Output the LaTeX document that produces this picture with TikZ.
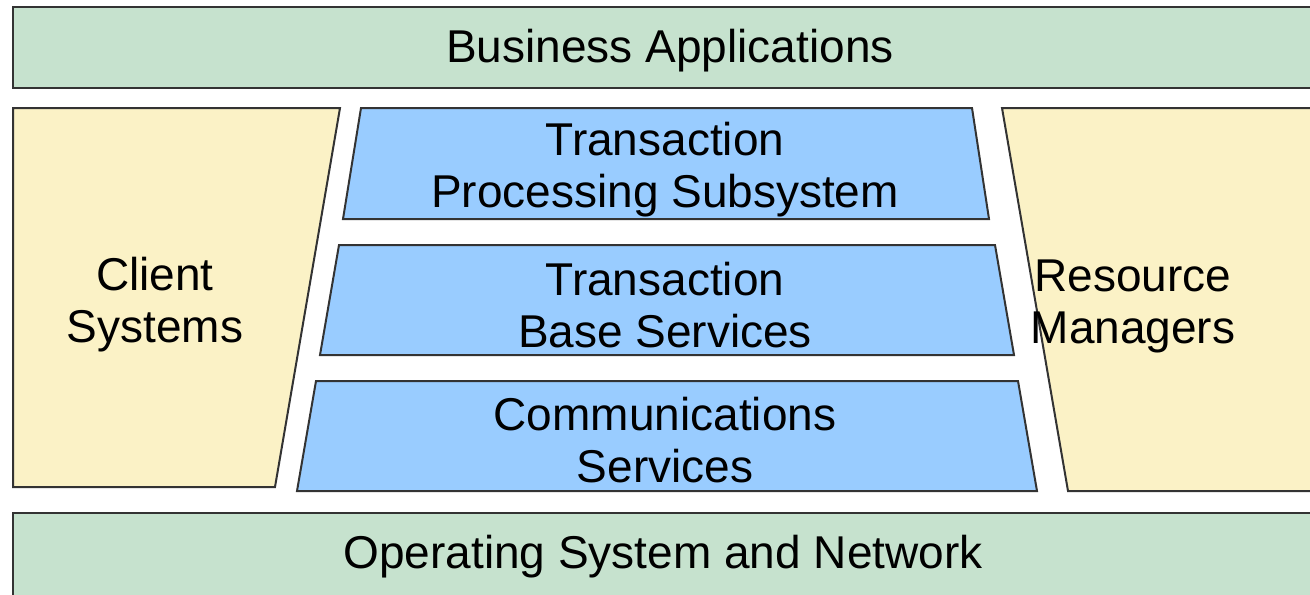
\documentclass[tikz,border=0pt]{standalone}
\usepackage{fontspec}
\setmainfont{Liberation Sans}
\usepackage{xcolor}
\definecolor{layergreen}{HTML}{C6E2CE}
\definecolor{sideyellow}{HTML}{FBF2C6}
\definecolor{tpblue}{HTML}{99CCFF}
\definecolor{edgegray}{HTML}{333333}

\begin{document}
\begin{tikzpicture}[x=.5pt,y=-.5pt,line width=1pt,draw=edgegray,
    font=\fontsize{23}{26}\selectfont,
    layer/.style={fill=layergreen},
    side/.style={fill=sideyellow},
    tier/.style={fill=tpblue},
    lbl/.style={align=center,inner sep=0pt}]
  \useasboundingbox (0,0) rectangle (1310,594);
  \draw[layer] (13,7) rectangle (1330,88);
  \node (ba) [lbl] at (670,51) {Business Applications};
  \draw[side] (13,108) -- (340,108) -- (275,487) -- (13,487) -- cycle;
  \node (cs) [lbl] at (155,305) {Client\\Systems};
  \draw[tier] (361,108) -- (972,108) -- (989,219) -- (343,219) -- cycle;
  \node (tp) [lbl] at (665,170) {Transaction\\Processing Subsystem};
  \draw[tier] (339,245) -- (995,245) -- (1014,355) -- (320,355) -- cycle;
  \node (tb) [lbl] at (665,305) {Transaction\\Base Services};
  \draw[tier] (316,381) -- (1018,381) -- (1037,491) -- (297,491) -- cycle;
  \node (co) [lbl] at (665,440) {Communications\\Services};
  \draw[side] (1002,108) -- (1330,108) -- (1330,491) -- (1068,491) -- cycle;
  \node (rm) [lbl] at (1133,306) {Resource\\Managers};
  \draw[layer] (13,513) rectangle (1330,610);
  \node (os) [lbl] at (663,557) {Operating System and Network};
\end{tikzpicture}
\end{document}
